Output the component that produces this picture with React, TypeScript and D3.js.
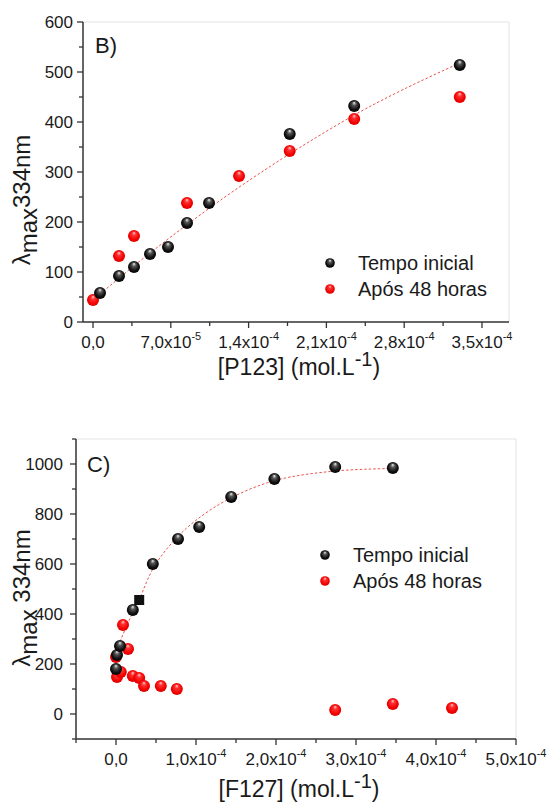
import React from "react";
import * as d3 from "d3";

// ---- Panel B data (P123) ----
const topBlackX = [6.3e-6, 2.34e-5, 3.69e-5, 5.13e-5, 6.75e-5, 8.46e-5, 1.044e-4, 1.77e-4, 2.35e-4, 3.3e-4];
const topBlackY = [58, 92, 110, 136, 150, 198, 238, 376, 432, 514];
const topRedX = [0, 2.34e-5, 3.69e-5, 8.46e-5, 1.314e-4, 1.77e-4, 2.35e-4, 3.3e-4];
const topRedY = [44, 132, 172, 238, 292, 342, 406, 450];
const topFitX = [0, 4e-5, 8e-5, 1.2e-4, 1.6e-4, 2e-4, 2.4e-4, 2.8e-4, 3.3e-4];
const topFitY = [44, 118, 187, 252, 312, 368, 420, 466, 518];
const topXTicks = [0, 7e-5, 1.4e-4, 2.1e-4, 2.8e-4, 3.5e-4];
const topXTickBase = ["0,0", "7,0x10", "1,4x10", "2,1x10", "2,8x10", "3,5x10"];
const topXTickExp = ["", "-5", "-4", "-4", "-4", "-4"];
const topXMinor = [3.5e-5, 1.05e-4, 1.75e-4, 2.45e-4, 3.15e-4];
const topYTicks = [0, 100, 200, 300, 400, 500, 600];
const topYMinor = [50, 150, 250, 350, 450, 550];

// ---- Panel C data (F127) ----
const botBlackX = [0, 1.25e-6, 5e-6, 2.1e-5, 4.6e-5, 7.75e-5, 1.04e-4, 1.44e-4, 1.98e-4, 2.74e-4, 3.46e-4];
const botBlackY = [180, 236, 272, 416, 600, 700, 748, 868, 940, 988, 984];
const botSquareX = [2.9e-5];
const botSquareY = [456];
const botRedX = [8.75e-6, 1.5e-5, 0, 1.25e-6, 6e-6, 2.1e-5, 2.9e-5, 3.5e-5, 5.6e-5, 7.6e-5, 2.74e-4, 3.46e-4, 4.2e-4];
const botRedY = [356, 260, 228, 148, 168, 152, 144, 112, 112, 100, 16, 40, 24];
const botFitX = [5e-6, 2e-5, 3e-5, 4.6e-5, 7e-5, 1e-4, 1.44e-4, 2e-4, 2.74e-4, 3.46e-4];
const botFitY = [290, 400, 465, 580, 685, 775, 865, 935, 972, 982];
const botXTicks = [0, 1e-4, 2e-4, 3e-4, 4e-4, 5e-4];
const botXTickBase = ["0,0", "1,0x10", "2,0x10", "3,0x10", "4,0x10", "5,0x10"];
const botXTickExp = ["", "-4", "-4", "-4", "-4", "-4"];
const botXMinor = [-5e-5, 5e-5, 1.5e-4, 2.5e-4, 3.5e-4, 4.5e-4];
const botYTicks = [0, 200, 400, 600, 800, 1000];
const botYMinor = [-100, 100, 300, 500, 700, 900, 1100];

const legendLabels = ["Tempo inicial", "Após 48 horas"];

const FONT = "'Liberation Sans', Arial, Helvetica, sans-serif";
const AXIS = "#333";
const TXT = "#1a1a1a";

type PanelProps = {
  xDomain: [number, number];
  xRange: [number, number];
  yDomain: [number, number];
  yRange: [number, number];
  blackX: number[];
  blackY: number[];
  redX: number[];
  redY: number[];
  fitX: number[];
  fitY: number[];
  xTicks: number[];
  xBase: string[];
  xExp: string[];
  xMinor: number[];
  yTicks: number[];
  yMinor: number[];
  yLabelGap: number;
  letter: string;
  letterPos: [number, number];
  legendPos: [number, number];
  legendStep: number;
  xTitleMain: string;
  xTitleY: number;
  yTitlePos: [number, number];
  yTitleSpace: boolean;
  squareX?: number[];
  squareY?: number[];
};

function Sphere({ x, y, r, fill }: { x: number; y: number; r: number; fill: string }) {
  return <circle cx={x} cy={y} r={r} fill={fill} />;
}

function Panel(p: PanelProps) {
  const x = d3.scaleLinear().domain(p.xDomain).range(p.xRange);
  const y = d3.scaleLinear().domain(p.yDomain).range(p.yRange);
  const [x0, x1] = p.xRange;
  const [yb, yt] = p.yRange;
  const line = d3
    .line<[number, number]>()
    .x((d) => x(d[0]))
    .y((d) => y(d[1]))
    .curve(d3.curveCatmullRom.alpha(0.5));
  const fitData: [number, number][] = p.fitX.map((v, i) => [v, p.fitY[i]]);
  return (
    <g>
      <line x1={x0} x2={x1} y1={yt} y2={yt} stroke="#e2e2e2" strokeWidth={1} />
      <line x1={x1} x2={x1} y1={yt} y2={yb} stroke="#e2e2e2" strokeWidth={1} />
      <line x1={x0} x2={x1} y1={yb} y2={yb} stroke={AXIS} strokeWidth={1.5} />
      <line x1={x0} x2={x0} y1={yt} y2={yb} stroke={AXIS} strokeWidth={1.5} />
      {p.xTicks.map((t, i) => (
        <g key={"xt" + i}>
          <line x1={x(t)} x2={x(t)} y1={yb} y2={yb + 6} stroke={AXIS} strokeWidth={1.3} />
          <text x={x(t)} y={yb + 26} textAnchor="middle" fontFamily={FONT} fontSize={17} fill={TXT}>
            {p.xBase[i]}
            {p.xExp[i] ? (
              <tspan fontSize={11} dy={-8}>
                {p.xExp[i]}
              </tspan>
            ) : null}
          </text>
        </g>
      ))}
      {p.xMinor.map((t, i) => (
        <line key={"xm" + i} x1={x(t)} x2={x(t)} y1={yb} y2={yb + 4} stroke={AXIS} strokeWidth={1.3} />
      ))}
      {p.yTicks.map((t, i) => (
        <g key={"yt" + i}>
          <line x1={x0 - 6} x2={x0} y1={y(t)} y2={y(t)} stroke={AXIS} strokeWidth={1.3} />
          <text
            x={x0 - p.yLabelGap}
            y={y(t) + 6}
            textAnchor="end"
            fontFamily={FONT}
            fontSize={17}
            fill={TXT}
          >
            {t}
          </text>
        </g>
      ))}
      {p.yMinor.map((t, i) => (
        <line key={"ym" + i} x1={x0 - 4} x2={x0} y1={y(t)} y2={y(t)} stroke={AXIS} strokeWidth={1.3} />
      ))}
      <path d={line(fitData) || ""} fill="none" stroke="#e8554e" strokeWidth={1} strokeDasharray="2.5,2" />
      {p.redX.map((v, i) => (
        <Sphere key={"r" + i} x={x(v)} y={y(p.redY[i])} r={6} fill="url(#gRed)" />
      ))}
      {p.blackX.map((v, i) => (
        <Sphere key={"b" + i} x={x(v)} y={y(p.blackY[i])} r={6} fill="url(#gBlack)" />
      ))}
      {(p.squareX || []).map((v, i) => (
        <rect
          key={"s" + i}
          x={x(v) - 5}
          y={y((p.squareY || [])[i]) - 5}
          width={10}
          height={10}
          fill="#111"
        />
      ))}
      <text x={p.letterPos[0]} y={p.letterPos[1]} fontFamily={FONT} fontSize={22} fill={TXT}>
        {p.letter}
      </text>
      {legendLabels.map((lab, i) => (
        <g key={"lg" + i}>
          <Sphere
            x={p.legendPos[0]}
            y={p.legendPos[1] + i * p.legendStep}
            r={4.8}
            fill={i === 0 ? "url(#gBlack)" : "url(#gRed)"}
          />
          <text
            x={p.legendPos[0] + 28}
            y={p.legendPos[1] + i * p.legendStep + 7}
            fontFamily={FONT}
            fontSize={20}
            fill={TXT}
          >
            {lab}
          </text>
        </g>
      ))}
      <text x={(x0 + x1) / 2 + 3} y={p.xTitleY} textAnchor="middle" fontFamily={FONT} fontSize={23} fill={TXT}>
        {p.xTitleMain}
        <tspan fontSize={20} dy={-9}>
          -1
        </tspan>
        <tspan dy={9}>)</tspan>
      </text>
      <text
        transform={`translate(${p.yTitlePos[0]},${p.yTitlePos[1]}) rotate(-90)`}
        textAnchor="middle"
        fontFamily={FONT}
        fontSize={24}
        fill={TXT}
      >
        λ
        <tspan dy={7}>max</tspan>
        <tspan dy={-7}>{p.yTitleSpace ? " 334nm" : "334nm"}</tspan>
      </text>
    </g>
  );
}

export default function App() {
  return (
    <svg
      width={550}
      height={805}
      style={{ position: "absolute", left: 0, top: 0, background: "#fff" }}
    >
      <defs>
        <radialGradient id="gBlack" cx="0.5" cy="0.5" r="0.55" fx="0.5" fy="0.22">
          <stop offset="0" stopColor="#f2f2f2" />
          <stop offset="0.3" stopColor="#555" />
          <stop offset="0.7" stopColor="#111" />
          <stop offset="1" stopColor="#000" />
        </radialGradient>
        <radialGradient id="gRed" cx="0.5" cy="0.5" r="0.55" fx="0.5" fy="0.22">
          <stop offset="0" stopColor="#ffd0d0" />
          <stop offset="0.3" stopColor="#ff3030" />
          <stop offset="0.75" stopColor="#f00000" />
          <stop offset="1" stopColor="#d80000" />
        </radialGradient>
      </defs>
      <Panel
        xDomain={[-9e-6, 3.743e-4]}
        xRange={[83, 509]}
        yDomain={[0, 600]}
        yRange={[322, 22]}
        blackX={topBlackX}
        blackY={topBlackY}
        redX={topRedX}
        redY={topRedY}
        fitX={topFitX}
        fitY={topFitY}
        xTicks={topXTicks}
        xBase={topXTickBase}
        xExp={topXTickExp}
        xMinor={topXMinor}
        yTicks={topYTicks}
        yMinor={topYMinor}
        yLabelGap={10}
        letter="B)"
        letterPos={[95, 53]}
        legendPos={[330, 263]}
        legendStep={26}
        xTitleMain="[P123] (mol.L"
        xTitleY={375}
        yTitlePos={[30, 200]}
        yTitleSpace={false}
      />
      <Panel
        xDomain={[-5e-5, 5e-4]}
        xRange={[76, 516]}
        yDomain={[-100, 1100]}
        yRange={[739, 439]}
        blackX={botBlackX}
        blackY={botBlackY}
        redX={botRedX}
        redY={botRedY}
        fitX={botFitX}
        fitY={botFitY}
        xTicks={botXTicks}
        xBase={botXTickBase}
        xExp={botXTickExp}
        xMinor={botXMinor}
        yTicks={botYTicks}
        yMinor={botYMinor}
        yLabelGap={13}
        letter="C)"
        letterPos={[87, 472]}
        legendPos={[325, 555]}
        legendStep={26}
        xTitleMain="[F127] (mol.L"
        xTitleY={797}
        yTitlePos={[30, 598]}
        yTitleSpace={true}
        squareX={botSquareX}
        squareY={botSquareY}
      />
    </svg>
  );
}
